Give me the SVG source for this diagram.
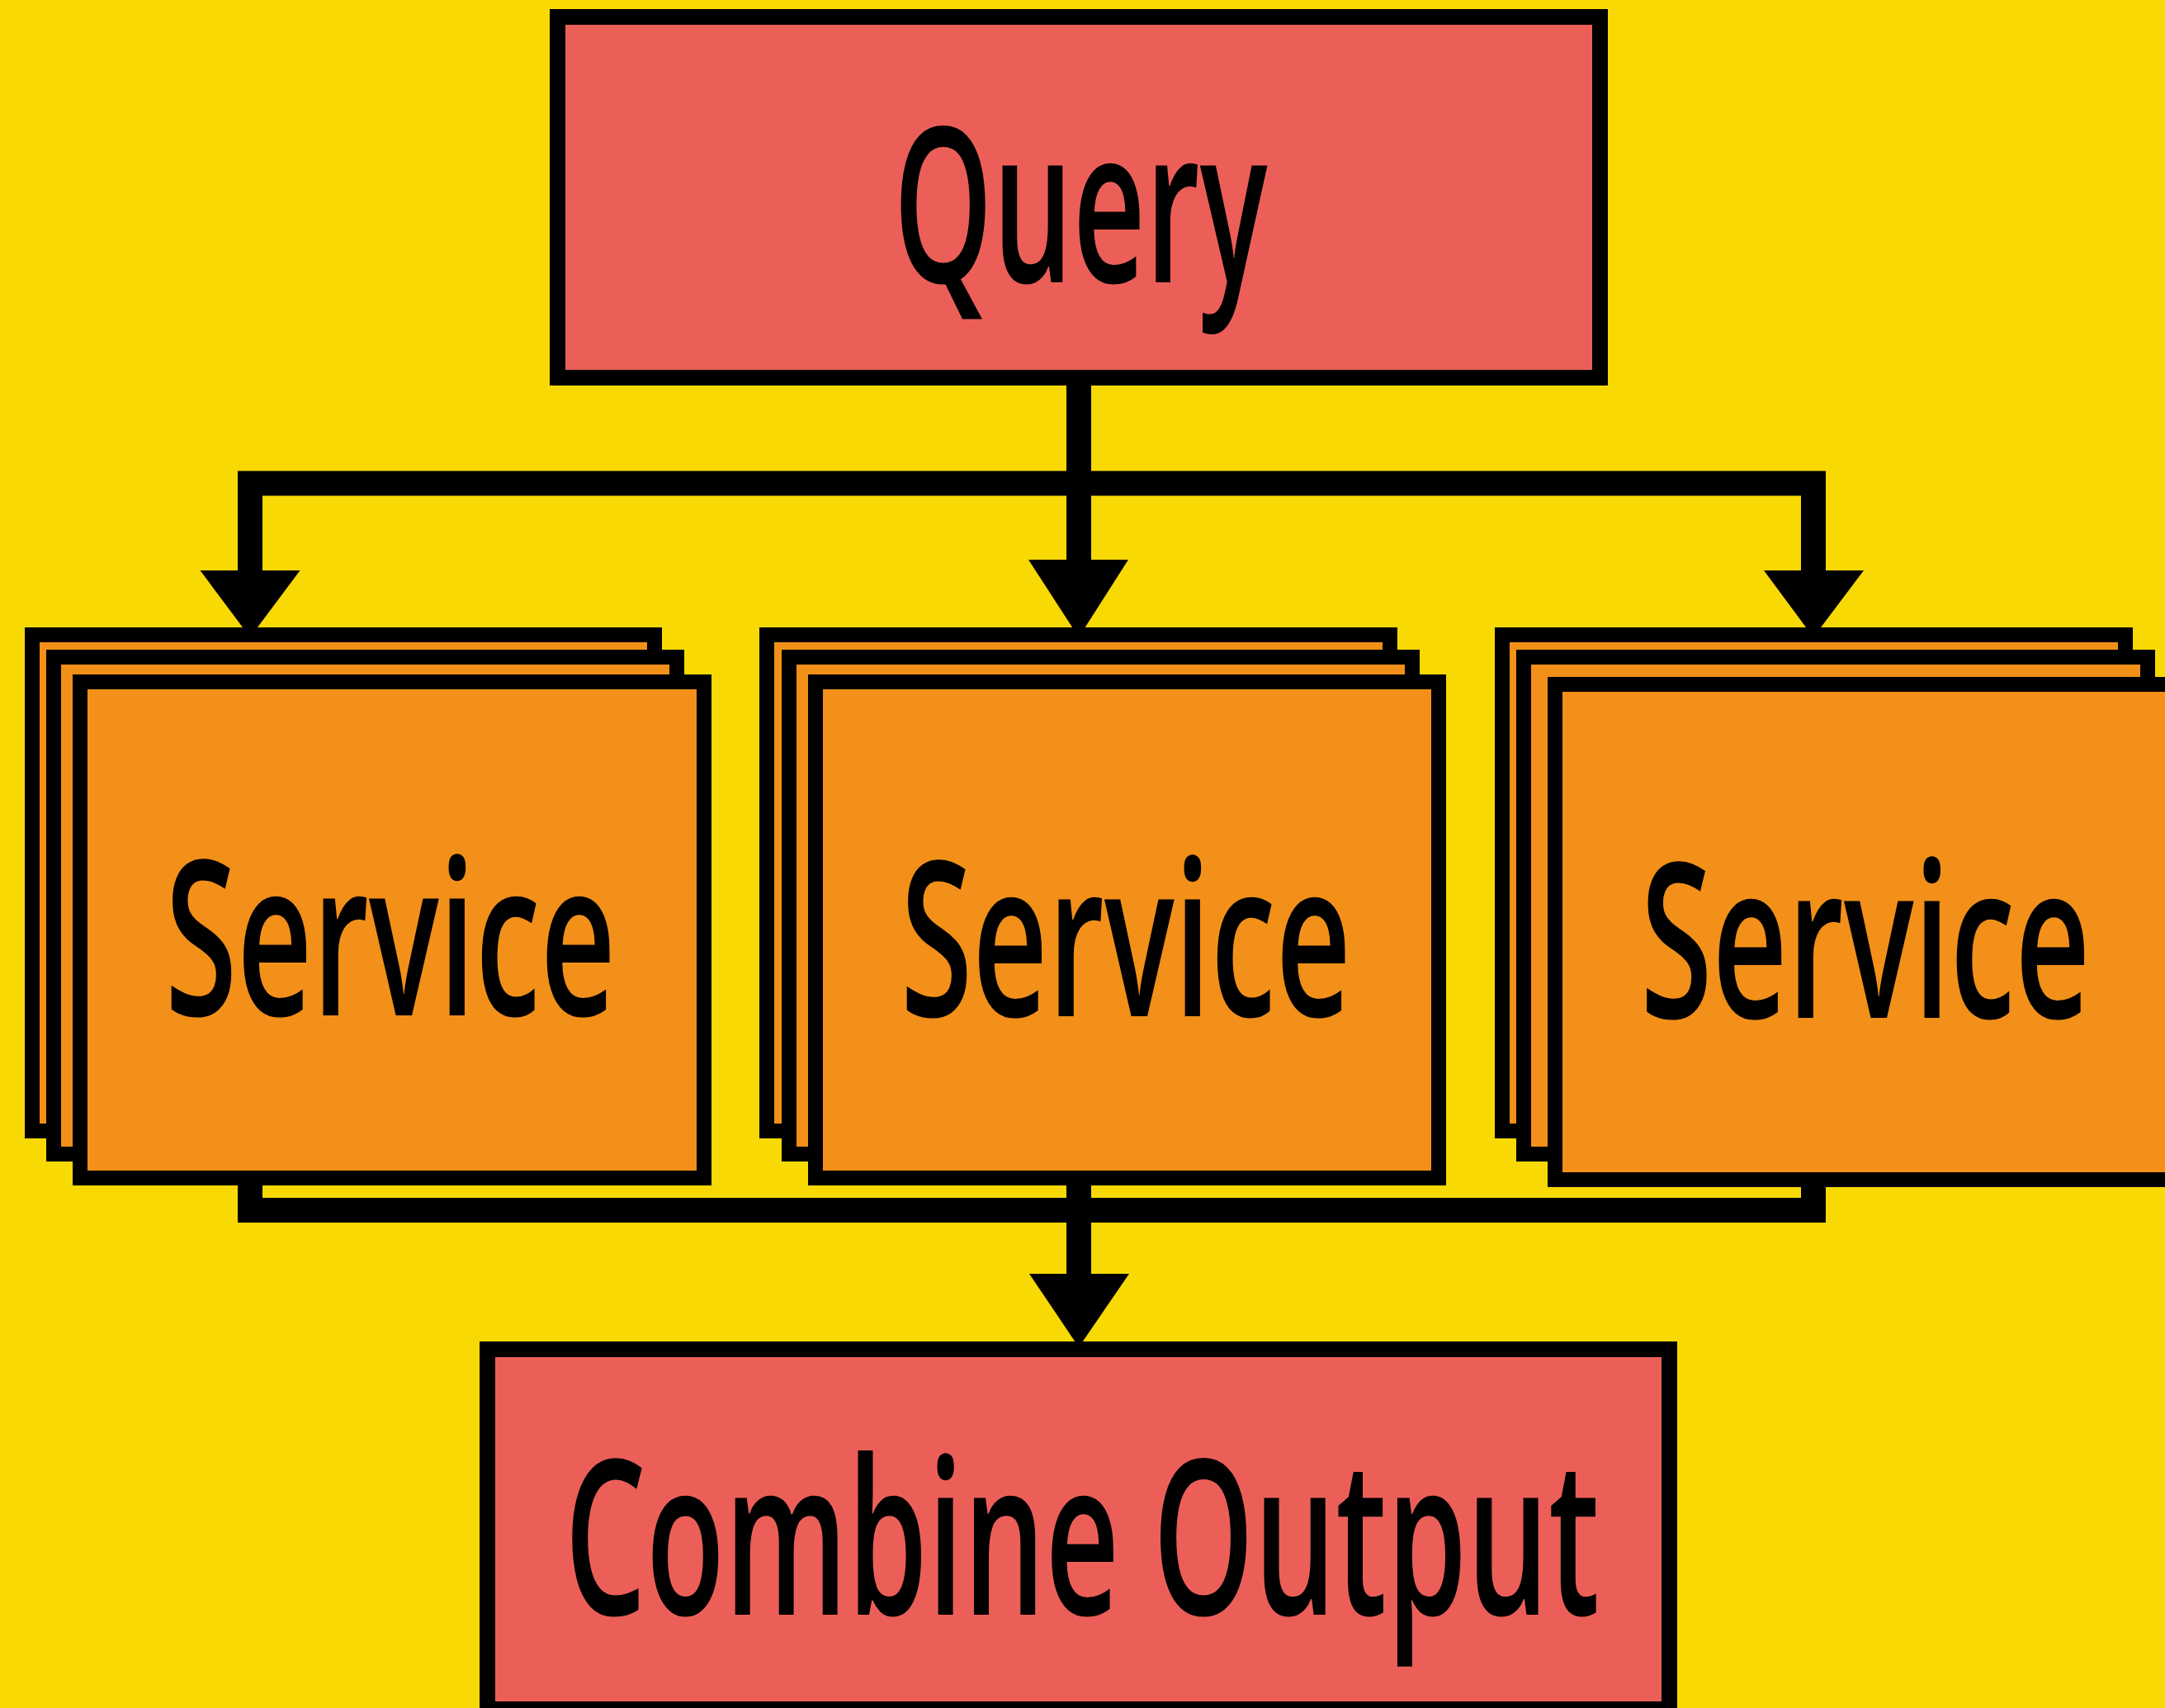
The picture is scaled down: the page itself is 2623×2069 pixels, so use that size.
<svg xmlns="http://www.w3.org/2000/svg" width="2623" height="2069" viewBox="0 0 2623 2069">
<style>
.bg{fill:#F8D904}
.q{fill:#EC5F59;stroke:#000;stroke-width:19}
.s{fill:#F29019;stroke:#000;stroke-width:18}
.lbl{font-family:"Open Sans","Noto Sans","Liberation Sans",sans-serif;font-size:262px;font-weight:600;fill:#000;text-anchor:middle}
.wire{fill:none;stroke:#000;stroke-width:30;stroke-linejoin:miter;stroke-linecap:butt}
.head{fill:#000}
</style>
<rect class="bg" x="0" y="0" width="2623" height="2069"/>
<g id="connectors">
<path class="wire" d="M1307,467 V680"/>
<path class="wire" d="M303,693 V585.5 H2197 V693"/>
<path class="wire" d="M303,1430 V1466 H2197 V1430"/>
<path class="wire" d="M1307,1430 V1545"/>
<polygon class="head" points="242.5,691 363.5,691 303,772"/>
<polygon class="head" points="1246,678 1367,678 1307,772"/>
<polygon class="head" points="2137,691 2258,691 2197,772"/>
<polygon class="head" points="1247,1543 1368,1543 1307,1632"/>
</g>
<g id="query">
<rect class="q" x="675.5" y="20.5" width="1263" height="437"/>
<text class="lbl" x="1309" y="342" textLength="453" lengthAdjust="spacingAndGlyphs">Query</text>
</g>
<g id="service-1">
<rect class="s" x="39" y="769" width="754" height="601"/>
<rect class="s" x="65" y="796" width="755" height="602"/>
<rect class="s" x="97" y="826" width="756" height="601"/>
<text class="lbl" x="473" y="1230" textLength="546" lengthAdjust="spacingAndGlyphs">Service</text>
</g>
<g id="service-2">
<rect class="s" x="929" y="769" width="755" height="601"/>
<rect class="s" x="956" y="796" width="755" height="602"/>
<rect class="s" x="988" y="826" width="755" height="601"/>
<text class="lbl" x="1364" y="1231" textLength="546" lengthAdjust="spacingAndGlyphs">Service</text>
</g>
<g id="service-3">
<rect class="s" x="1820" y="769" width="755" height="601"/>
<rect class="s" x="1846" y="796" width="756" height="602"/>
<rect class="s" x="1884" y="829" width="755" height="600"/>
<text class="lbl" x="2260" y="1233" textLength="545" lengthAdjust="spacingAndGlyphs">Service</text>
</g>
<g id="combine">
<rect class="q" x="590.5" y="1634.5" width="1432" height="436"/>
<text class="lbl" x="1311" y="1956" textLength="1254" lengthAdjust="spacingAndGlyphs">Combine Output</text>
</g>
</svg>
